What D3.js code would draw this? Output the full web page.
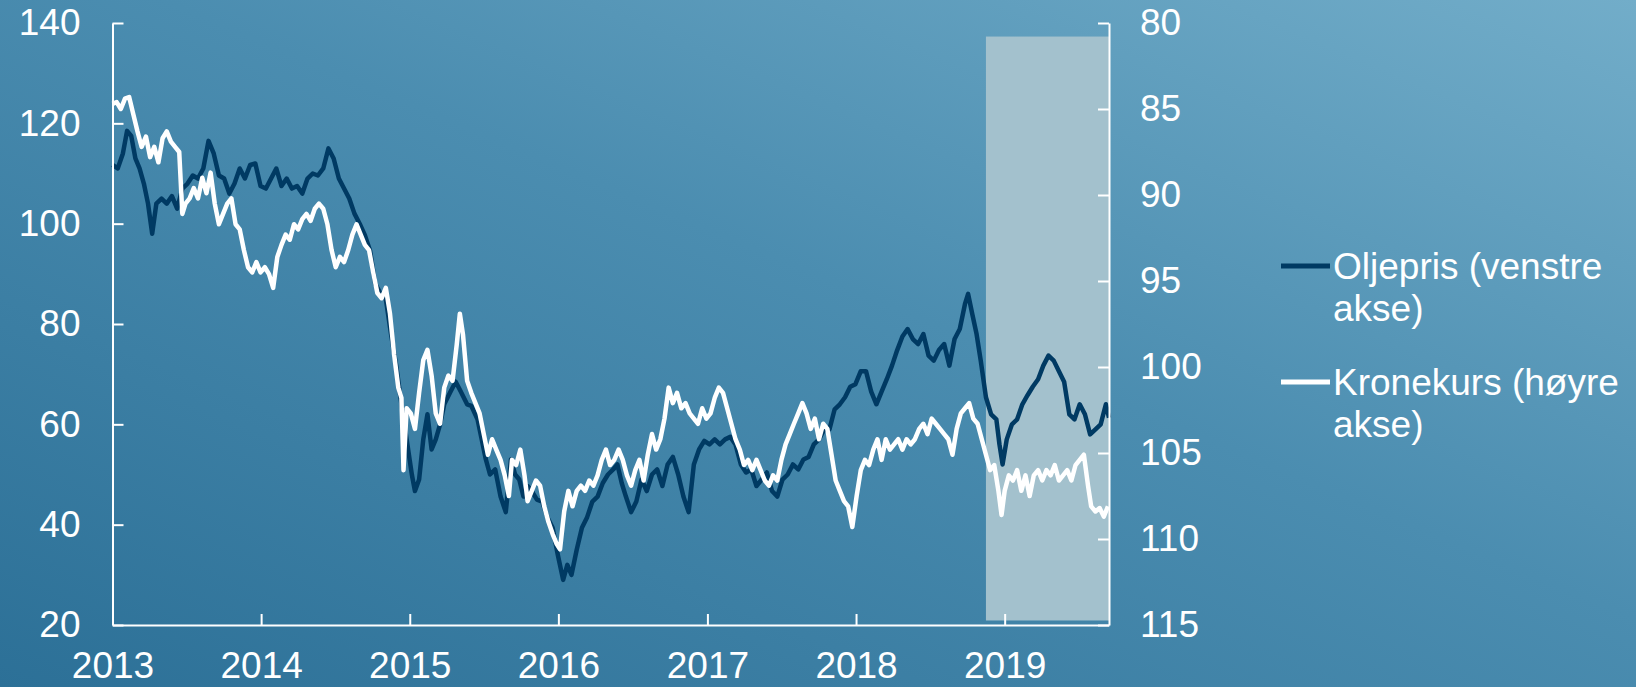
<!DOCTYPE html>
<html>
<head>
<meta charset="utf-8">
<script src="https://cdn.jsdelivr.net/npm/d3@7"></script>
<style>
  html, body { margin: 0; padding: 0; overflow: hidden; }
  svg { display: block; font-family: "Liberation Sans", Arial, sans-serif; }
</style>
</head>
<body>
<svg id="chart" width="1636" height="687"></svg>
<script>
// time as decimal year
const oilTimes = [2013.000,2013.035,2013.070,2013.098,2013.126,2013.154,2013.182,2013.211,2013.239,2013.267,
  2013.295,2013.330,2013.365,2013.400,2013.435,2013.470,2013.505,2013.540,2013.575,2013.611,
  2013.646,2013.681,2013.716,2013.751,2013.786,2013.821,2013.856,2013.891,2013.926,2013.961,
  2013.996,2014.032,2014.067,2014.102,2014.137,2014.172,2014.207,2014.242,2014.277,2014.312,
  2014.347,2014.382,2014.418,2014.453,2014.488,2014.523,2014.558,2014.593,2014.628,2014.663,
  2014.698,2014.733,2014.768,2014.804,2014.839,2014.874,2014.909,2014.944,2014.979,2015.014,
  2015.035,2015.063,2015.091,2015.119,2015.147,2015.175,2015.204,2015.232,2015.274,2015.309,
  2015.344,2015.386,2015.414,2015.456,2015.484,2015.512,2015.540,2015.575,2015.611,2015.646,
  2015.681,2015.709,2015.737,2015.765,2015.793,2015.821,2015.856,2015.891,2015.926,2015.961,
  2015.996,2016.032,2016.060,2016.088,2016.123,2016.158,2016.193,2016.228,2016.263,2016.298,
  2016.333,2016.368,2016.396,2016.425,2016.453,2016.488,2016.523,2016.558,2016.593,2016.628,
  2016.663,2016.698,2016.733,2016.768,2016.804,2016.839,2016.874,2016.909,2016.944,2016.979,
  2017.014,2017.049,2017.084,2017.119,2017.154,2017.189,2017.225,2017.260,2017.295,2017.330,
  2017.365,2017.400,2017.435,2017.470,2017.505,2017.540,2017.575,2017.611,2017.646,2017.681,
  2017.716,2017.751,2017.786,2017.821,2017.856,2017.891,2017.926,2017.961,2017.996,2018.032,
  2018.067,2018.102,2018.137,2018.172,2018.207,2018.242,2018.277,2018.312,2018.347,2018.382,
  2018.418,2018.453,2018.488,2018.523,2018.558,2018.593,2018.628,2018.663,2018.698,2018.733,
  2018.754,2018.782,2018.811,2018.839,2018.874,2018.909,2018.944,2018.965,2018.986,2019.014,
  2019.049,2019.084,2019.119,2019.154,2019.189,2019.225,2019.260,2019.295,2019.330,2019.365,
  2019.400,2019.435,2019.470,2019.505,2019.540,2019.575,2019.611,2019.646,2019.681,2019.702];
const oilValues = [111.7,111,114,118.5,117.5,113,111,108,104,98,
  104,105,104,105.5,103,107,108,109.6,109,111,
  116.5,114,109.6,109,106,108,111,109,111.7,112,
  107.5,107,109,111,107.5,109,107,107.5,106,109,
  110,109.6,111,115,113,109,107,105,102,100,
  97.7,94.6,88,86,85,78,71.7,64,57,50,
  46.7,49,57,62,55,57,60,64,66.5,68.5,
  66.5,64,63.7,61,57,53,50,51,45.6,42.5,
  53,50,49,45.6,47.7,46.7,45,44.6,41.5,39.4,
  34,29,32,30,35,39.4,41.5,44.6,45.6,48.3,
  50,51,52,48.3,45.6,42.5,44.6,49,46.7,50,
  51,47.7,52,53.5,50,45.6,42.5,52,55,56.7,
  56,57,56,57,57.5,56,52,50.4,51,47.7,
  49,50.4,46.7,45.6,49,50,52,51,53,53.5,
  56,57,59,59,63,64,65.4,67.5,68,70.6,
  70.6,66.5,64,66.5,69,71.7,74.8,77.5,79,77,
  76,78,73.7,72.7,74.8,76,71.7,77,79,84,
  86,82,78,72.7,65.4,62,61,56,52,57,
  60,61,64,65.8,67.5,69,71.7,73.7,72.7,70.6,
  68.5,62,61,64,62,58,59,60,64,61.3];

const nokTimes = [2013.000,2013.028,2013.056,2013.084,2013.112,2013.140,2013.168,2013.196,2013.225,2013.253,
  2013.281,2013.309,2013.337,2013.365,2013.393,2013.421,2013.449,2013.470,2013.491,2013.519,
  2013.547,2013.575,2013.604,2013.632,2013.660,2013.688,2013.716,2013.744,2013.772,2013.800,
  2013.828,2013.856,2013.884,2013.912,2013.940,2013.968,2013.996,2014.025,2014.053,2014.081,
  2014.109,2014.137,2014.165,2014.193,2014.221,2014.249,2014.277,2014.305,2014.333,2014.361,
  2014.389,2014.418,2014.446,2014.474,2014.502,2014.530,2014.558,2014.586,2014.614,2014.642,
  2014.670,2014.698,2014.726,2014.754,2014.782,2014.811,2014.839,2014.867,2014.895,2014.923,
  2014.944,2014.958,2014.979,2015.007,2015.035,2015.063,2015.091,2015.119,2015.147,2015.175,
  2015.204,2015.232,2015.260,2015.288,2015.316,2015.337,2015.358,2015.386,2015.414,2015.442,
  2015.470,2015.498,2015.526,2015.554,2015.582,2015.611,2015.639,2015.667,2015.688,2015.716,
  2015.744,2015.772,2015.793,2015.821,2015.849,2015.877,2015.905,2015.933,2015.961,2015.989,
  2016.011,2016.039,2016.067,2016.095,2016.123,2016.151,2016.179,2016.207,2016.235,2016.263,
  2016.291,2016.319,2016.347,2016.375,2016.404,2016.432,2016.460,2016.488,2016.516,2016.544,
  2016.572,2016.600,2016.628,2016.656,2016.684,2016.712,2016.740,2016.768,2016.796,2016.825,
  2016.853,2016.881,2016.909,2016.937,2016.965,2016.993,2017.021,2017.049,2017.077,2017.105,
  2017.133,2017.161,2017.189,2017.218,2017.246,2017.274,2017.302,2017.330,2017.358,2017.386,
  2017.414,2017.442,2017.470,2017.498,2017.526,2017.554,2017.582,2017.611,2017.639,2017.667,
  2017.695,2017.723,2017.751,2017.779,2017.807,2017.835,2017.863,2017.891,2017.919,2017.947,
  2017.975,2018.004,2018.032,2018.060,2018.088,2018.116,2018.144,2018.172,2018.200,2018.228,
  2018.256,2018.284,2018.312,2018.340,2018.368,2018.396,2018.425,2018.453,2018.481,2018.509,
  2018.537,2018.565,2018.593,2018.621,2018.649,2018.677,2018.705,2018.733,2018.761,2018.789,
  2018.818,2018.846,2018.874,2018.902,2018.930,2018.958,2018.979,2019.000,2019.028,2019.056,
  2019.084,2019.112,2019.140,2019.168,2019.196,2019.225,2019.253,2019.281,2019.309,2019.337,
  2019.365,2019.393,2019.421,2019.449,2019.477,2019.505,2019.533,2019.561,2019.582,2019.611,
  2019.639,2019.667,2019.695];
const nokValues = [84.7,84.6,85.0,84.4,84.3,85.3,86.3,87.2,86.6,87.8,
  87.2,88.1,86.7,86.3,86.9,87.2,87.5,91.1,90.5,90.2,
  89.6,90.2,89.0,89.9,88.7,90.5,91.7,91.1,90.5,90.2,
  91.7,92.0,93.2,94.2,94.5,93.9,94.5,94.2,94.6,95.4,
  93.6,92.9,92.3,92.6,91.7,92.0,91.4,91.1,91.5,90.8,
  90.5,90.8,91.7,93.2,94.2,93.6,93.9,93.2,92.3,91.7,
  92.3,92.9,93.2,94.5,95.7,96.0,95.4,96.9,99.3,101.2,
  101.8,106.0,102.4,102.7,103.6,101.5,99.6,99.0,100.5,102.7,
  103.3,101.2,100.5,100.8,98.7,96.9,98.1,100.8,101.5,102.1,
  102.7,103.9,105.1,104.2,104.8,105.4,106.3,107.5,105.4,105.7,
  104.8,106.3,107.8,107.2,106.6,106.9,108.1,109.0,109.7,110.3,
  110.6,108.4,107.2,108.1,107.2,106.9,107.2,106.6,106.9,106.3,
  105.4,104.8,105.7,105.4,104.8,105.4,106.3,106.9,106.0,105.4,
  106.6,105.1,103.9,104.8,104.2,103.0,101.2,102.1,101.5,102.4,
  102.1,102.7,103.0,103.3,102.4,103.0,102.7,101.8,101.2,101.5,
  102.4,103.3,104.2,104.8,105.7,105.4,106.0,105.4,106.0,106.6,
  106.9,106.3,106.6,105.4,104.5,103.9,103.3,102.7,102.1,102.7,
  103.6,103.0,104.2,103.3,103.6,105.1,106.6,107.2,107.8,108.1,
  109.3,107.5,106.0,105.4,105.7,104.8,104.2,105.4,104.2,104.8,
  104.5,104.2,104.8,104.2,104.5,104.2,103.6,103.3,103.9,103.0,
  103.3,103.6,103.9,104.2,105.1,103.6,102.7,102.4,102.1,103.0,
  103.3,104.2,105.1,106.0,105.7,107.2,108.6,107.2,106.3,106.6,
  106.0,107.2,106.3,107.5,106.3,106.0,106.6,106.0,106.3,105.7,
  106.6,106.3,106.0,106.6,105.7,105.4,105.1,106.9,108.1,108.4,
  108.2,108.7,108.1];

const leftTicks = [20, 40, 60, 80, 100, 120, 140];
const rightTicks = [80, 85, 90, 95, 100, 105, 110, 115];
const yearTicks = [2013, 2014, 2015, 2016, 2017, 2018, 2019];
const seriesNames = ["Oljepris (venstre akse)", "Kronekurs (høyre akse)"];
// shaded period: start, end (decimal year) and top/bottom on the left axis
const shadeTimes = [2018.874, 2019.702];
const shadeLevels = [137.3, 20.9];

const rem = 37;
const oilColor = "#003a63";
const nokColor = "#ffffff";

function toDate(t) {
  const y = Math.floor(t);
  const a = new Date(y, 0, 1), b = new Date(y + 1, 0, 1);
  return new Date(+a + (t - y) * (b - a));
}

const svg = d3.select("#chart");
const W = 1636, H = 687;
const plot = {left: 112.5, right: 1109, top: 23, bottom: 625};

// background gradient
const defs = svg.append("defs");
const grad = defs.append("linearGradient")
  .attr("id", "bg")
  .attr("x1", "0").attr("y1", "1")
  .attr("x2", "1").attr("y2", "0");
grad.append("stop").attr("offset", "0").attr("stop-color", "#2c7097");
grad.append("stop").attr("offset", "0.55").attr("stop-color", "#4b8db0");
grad.append("stop").attr("offset", "1").attr("stop-color", "#72adc9");
svg.append("rect").attr("width", W).attr("height", H).attr("fill", "url(#bg)");

const x = d3.scaleTime()
  .domain([toDate(2013), toDate(2019.702)])
  .range([plot.left, plot.right]);
const yLeft = d3.scaleLinear().domain([20, 140]).range([plot.bottom, plot.top]);
const yRight = d3.scaleLinear().domain([80, 115]).range([plot.top, plot.bottom]);

// shaded area
svg.append("rect")
  .attr("x", x(toDate(shadeTimes[0])))
  .attr("y", yLeft(shadeLevels[0]))
  .attr("width", x(toDate(shadeTimes[1])) - x(toDate(shadeTimes[0])))
  .attr("height", yLeft(shadeLevels[1]) - yLeft(shadeLevels[0]))
  .attr("fill", "#a3c1cd");

const oil = oilTimes.map((t, i) => ({date: toDate(t), v: oilValues[i]}));
const nok = nokTimes.map((t, i) => ({date: toDate(t), v: nokValues[i]}));

const lineLeft = d3.line().x(d => x(d.date)).y(d => yLeft(d.v));
const lineRight = d3.line().x(d => x(d.date)).y(d => yRight(d.v));

svg.append("path").datum(oil)
  .attr("d", lineLeft)
  .attr("fill", "none").attr("stroke", oilColor)
  .attr("stroke-width", 4.5).attr("stroke-linejoin", "round");

svg.append("path").datum(nok)
  .attr("d", lineRight)
  .attr("fill", "none").attr("stroke", nokColor)
  .attr("stroke-width", 4.5).attr("stroke-linejoin", "round");

// axes
function styleAxis(g) {
  g.selectAll("path, line").attr("stroke", "#ffffff").attr("stroke-width", 2);
  g.selectAll("text").attr("fill", "#ffffff").attr("font-size", rem + "px")
    .attr("font-family", "'Liberation Sans', Arial, sans-serif");
}

const xAxis = d3.axisBottom(x)
  .tickValues(yearTicks.map(toDate))
  .tickFormat(d3.timeFormat("%Y"))
  .tickSizeInner(-11).tickSizeOuter(0).tickPadding(27);
svg.append("g").attr("transform", `translate(0,${plot.bottom})`).call(xAxis).call(styleAxis);

const leftAxis = d3.axisLeft(yLeft)
  .tickValues(leftTicks)
  .tickSizeInner(-11).tickSizeOuter(0).tickPadding(32);
svg.append("g").attr("transform", `translate(${plot.left},0)`).call(leftAxis).call(styleAxis);

const rightAxis = d3.axisRight(yRight)
  .tickValues(rightTicks)
  .tickSizeInner(-11).tickSizeOuter(0).tickPadding(31);
svg.append("g").attr("transform", `translate(${plot.right},0)`).call(rightAxis).call(styleAxis);

// legend
const legend = svg.append("g").attr("transform", "translate(1281,0)");
const legendRows = [
  {name: seriesNames[0], color: oilColor, y: 266},
  {name: seriesNames[1], color: nokColor, y: 382}
];
legendRows.forEach(r => {
  legend.append("line")
    .attr("x1", 0).attr("x2", 49).attr("y1", r.y).attr("y2", r.y)
    .attr("stroke", r.color).attr("stroke-width", 5);
  const words = r.name.split(" ");
  const t = legend.append("text")
    .attr("x", 52).attr("y", r.y + 13)
    .attr("fill", "#ffffff").attr("font-size", rem + "px");
  t.append("tspan").attr("x", 52).text(words.slice(0, 2).join(" "));
  t.append("tspan").attr("x", 52).attr("dy", 42).text(words.slice(2).join(" "));
});
</script>
</body>
</html>
